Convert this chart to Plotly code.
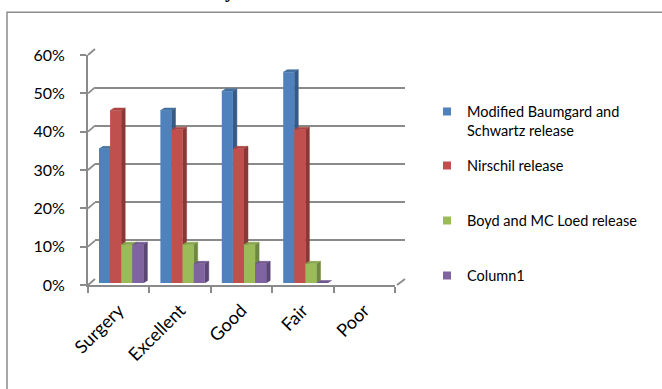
import plotly.graph_objects as go

# ---------------- data ----------------
categories = ["Surgery", "Excellent", "Good", "Fair", "Poor"]
series_names = ["Modified Baumgard and<br>Schwartz release", "Nirschil release",
                "Boyd and MC Loed release", "Column1"]
baumgard = [0.35, 0.45, 0.50, 0.55, None]
nirschil = [0.45, 0.40, 0.35, 0.40, None]
boyd = [0.10, 0.10, 0.10, 0.05, None]
column1 = [0.10, 0.05, 0.05, 0.00, None]
y_tick_values = [0, 0.1, 0.2, 0.3, 0.4, 0.5, 0.6]
y_tick_labels = ["0%", "10%", "20%", "30%", "40%", "50%", "60%"]
title_fragment = "y"

series_values = [baumgard, nirschil, boyd, column1]
front_colors = ["#4F81BD", "#C0504D", "#9BBB59", "#8064A2"]
top_colors = ["#45719F", "#A94542", "#87A44D", "#6F578E"]
side_colors = ["#375A85", "#8A3836", "#6E8840", "#5B4674"]

# ---------------- geometry helpers (pixels -> paper) ----------------
W, H = 662, 389
def fx(px):
    return px / W
def fy(py):
    return 1 - py / H

YMAX = 0.6
GRID = "#8A8A8A"
FONT = "Lato"

# plane layouts (pixel boxes)
back = dict(x0=95, x1=405, yb=279, yt=49)
bars = dict(x0=90.5, x1=397.5, yb=283, yt=53)
front = dict(x0=88, x1=395, yb=285, yt=55)

bargap = 0.277
nser = len(series_values)
w = (1 - bargap) / nser
px_per_cat = (bars["x1"] - bars["x0"]) / len(categories)
px_per_val = (bars["yb"] - bars["yt"]) / YMAX
dx = 4.0 / px_per_cat
dy = 2.5 / px_per_val

fig = go.Figure()

# back wall (subplot xy): only provides gridlines
fig.add_trace(go.Scatter(x=[0], y=[None], xaxis="x", yaxis="y", showlegend=False,
                         hoverinfo="skip", mode="markers", marker=dict(opacity=0)))

# 3D faces (subplot x2y2, drawn below the bar front faces)
for s, vals in enumerate(series_values):
    tx, ty, sx, sy = [], [], [], []
    for c, v in enumerate(vals):
        if v is None:
            continue
        x0 = c - (1 - bargap) / 2 + s * w
        x1 = x0 + w
        tx += [x0, x1, x1 + dx, x0 + dx, x0, None]
        ty += [v, v, v + dy, v + dy, v, None]
        if v > 0:
            sx += [x1, x1, x1 + dx, x1 + dx, x1, None]
            sy += [0, v, v + dy, dy, 0, None]
    fig.add_trace(go.Scatter(x=sx, y=sy, xaxis="x2", yaxis="y2", mode="lines",
                             fill="toself", fillcolor=side_colors[s],
                             line=dict(width=0.5, color=side_colors[s]),
                             showlegend=False, hoverinfo="skip"))
    fig.add_trace(go.Scatter(x=tx, y=ty, xaxis="x2", yaxis="y2", mode="lines",
                             fill="toself", fillcolor=top_colors[s],
                             line=dict(width=0.5, color=top_colors[s]),
                             showlegend=False, hoverinfo="skip"))

# bar front faces (subplot x3y3)
for s, vals in enumerate(series_values):
    fig.add_trace(go.Bar(x=list(range(len(categories))), y=vals, name=series_names[s],
                         xaxis="x3", yaxis="y3", marker=dict(color=front_colors[s], line=dict(width=0)),
                         showlegend=False))

# front axes (subplot x4y4)
fig.add_trace(go.Scatter(x=categories, y=[0] * len(categories), xaxis="x4", yaxis="y4",
                         mode="markers", marker=dict(opacity=0), showlegend=False, hoverinfo="skip"))

# legend entries (one legend per series, placed like the original)
legend_line_y = [112, 166, 221, 276]
legend_names = ["legend", "legend2", "legend3", "legend4"]
for s in range(nser):
    fig.add_trace(go.Scatter(x=[None], y=[None], xaxis="x2", yaxis="y2", mode="markers",
                             name=series_names[s], legend=legend_names[s],
                             marker=dict(symbol="square", size=8, color=front_colors[s])))

layout_legends = {}
for s in range(nser):
    layout_legends[legend_names[s]] = dict(
        x=fx(427), y=fy(legend_line_y[s] - 16.5), xanchor="left", yanchor="top",
        font=dict(family=FONT, size=14.5, color="#000000"), valign="top",
        bgcolor="rgba(0,0,0,0)", borderwidth=0, itemclick=False, itemdoubleclick=False)

def hidden_x(dom, anchor, rng):
    return dict(domain=dom, anchor=anchor, range=rng, showgrid=False, zeroline=False,
                showticklabels=False, ticks="", showline=False, fixedrange=True)

ncat = len(categories)
fig.update_layout(
    width=W, height=H, margin=dict(l=0, r=0, t=0, b=0, autoexpand=False),
    paper_bgcolor="white", plot_bgcolor="rgba(0,0,0,0)",
    barmode="group", bargap=bargap, bargroupgap=0,
    showlegend=True,
    xaxis=hidden_x([fx(back["x0"]), fx(back["x1"])], "y", [0, 1]),
    yaxis=dict(domain=[fy(back["yb"]), fy(back["yt"])], anchor="x",
               range=[-0.002, YMAX + 0.002], tickvals=y_tick_values, showticklabels=False, ticks="",
               showgrid=True, gridcolor=GRID, gridwidth=1.8, zeroline=False, showline=False,
               fixedrange=True),
    xaxis2=hidden_x([fx(bars["x0"]), fx(bars["x1"])], "y2", [-0.5, ncat - 0.5]),
    yaxis2=dict(domain=[fy(bars["yb"]), fy(bars["yt"])], anchor="x2", range=[0, YMAX],
                showgrid=False, zeroline=False, showticklabels=False, ticks="", fixedrange=True),
    xaxis3=hidden_x([fx(bars["x0"]), fx(bars["x1"])], "y3", [-0.5, ncat - 0.5]),
    yaxis3=dict(domain=[fy(bars["yb"]), fy(bars["yt"])], anchor="x3", range=[0, YMAX],
                showgrid=False, zeroline=False, showticklabels=False, ticks="", fixedrange=True),
    xaxis4=dict(domain=[fx(front["x0"]), fx(front["x1"])], anchor="y4", type="category",
                categoryorder="array", categoryarray=categories, range=[-0.5, ncat - 0.5],
                tickson="boundaries", ticks="outside", ticklen=6, tickwidth=1.8, tickcolor=GRID,
                showline=True, linecolor=GRID, linewidth=1.8, showgrid=False, zeroline=False,
                tickangle=-45, ticklabelstandoff=6,
                tickfont=dict(family=FONT, size=18, color="#000000"), fixedrange=True),
    yaxis4=dict(domain=[fy(front["yb"]), fy(front["yt"])], anchor="x4", range=[0, YMAX],
                tickvals=y_tick_values, ticktext=y_tick_labels, ticks="outside", ticklen=6,
                tickwidth=1.8, tickcolor=GRID, showline=True, linecolor=GRID, linewidth=1.8,
                showgrid=False, zeroline=False, ticklabelstandoff=12,
                tickfont=dict(family=FONT, size=16, color="#000000"), fixedrange=True),
    **layout_legends,
)

# connectors between front axis ticks and back-wall gridlines, plus floor edge
shapes = []
def front_y(v):
    return front["yb"] - v / YMAX * (front["yb"] - front["yt"])
def back_y(v):
    return back["yb"] - v / YMAX * (back["yb"] - back["yt"])
for v in y_tick_values:
    shapes.append(dict(type="line", xref="paper", yref="paper",
                       x0=fx(front["x0"]), y0=fy(front_y(v)), x1=fx(back["x0"]), y1=fy(back_y(v)),
                       line=dict(color=GRID, width=1.8)))
shapes.append(dict(type="line", xref="paper", yref="paper",
                   x0=fx(front["x1"] + 2), y0=fy(front_y(0)), x1=fx(back["x1"]), y1=fy(back_y(0)),
                   line=dict(color=GRID, width=1.8)))
# chart frame
shapes.append(dict(type="rect", xref="paper", yref="paper", x0=fx(7), x1=1.1, y0=-0.1, y1=fy(12.3),
                   line=dict(color="#8C8C8C", width=1.5), fillcolor="rgba(0,0,0,0)", layer="below"))
fig.update_layout(shapes=shapes)

# title (cut off at the top of the picture, as in the original)
fig.add_annotation(text="<b>" + title_fragment + "</b>", xref="paper", yref="paper",
                   x=fx(230), y=1, xanchor="center", yanchor="bottom", yshift=-4,
                   showarrow=False, font=dict(family="Liberation Serif", size=20, color="#000000"))

fig.write_html("out.html")
